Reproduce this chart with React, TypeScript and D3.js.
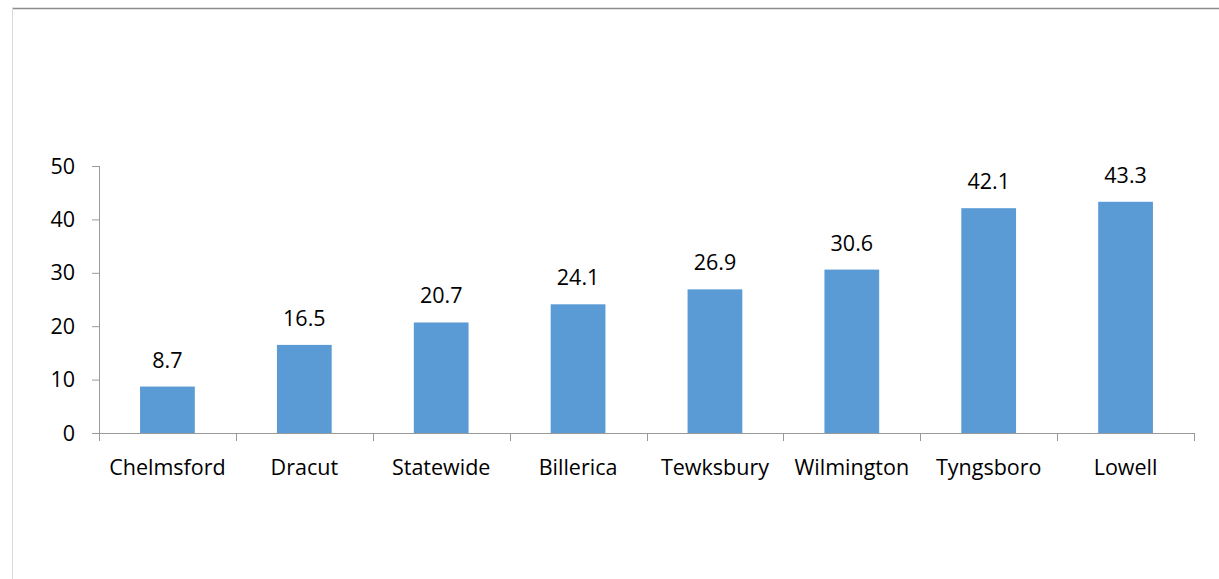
import { useEffect, useRef } from "react";
import * as d3 from "d3";

const categories = ["Chelmsford", "Dracut", "Statewide", "Billerica", "Tewksbury", "Wilmington", "Tyngsboro", "Lowell"];
const values = [8.7, 16.5, 20.7, 24.1, 26.9, 30.6, 42.1, 43.3];
const yTicks = [0, 10, 20, 30, 40, 50];

export default function App() {
  const svgRef = useRef<SVGSVGElement>(null);

  useEffect(() => {
    const svg = d3.select(svgRef.current);
    svg.selectAll("*").remove();
    const W = 1219, H = 579;
    const font = "'Open Sans', sans-serif";
    const fs = 21.5;

    svg.append("line").attr("x1", 12).attr("x2", W).attr("y1", 8.5).attr("y2", 8.5).attr("stroke", "#8c8c8c").attr("stroke-width", 1.5);
    svg.append("line").attr("x1", 12.5).attr("x2", 12.5).attr("y1", 8).attr("y2", H).attr("stroke", "#d9d9d9");

    const x = d3.scaleBand<string>().domain(categories).range([99, 1194]).paddingInner(0.6).paddingOuter(0.3);
    const y = d3.scaleLinear().domain([0, 50]).range([433, 166]);
    const x0 = 99;

    const g = svg.append("g");
    g.append("line").attr("x1", 99.5).attr("x2", 99.5).attr("y1", y(50)).attr("y2", y(0)).attr("stroke", "#999");
    g.append("line").attr("x1", 92).attr("x2", 1194).attr("y1", y(0) + 0.5).attr("y2", y(0) + 0.5).attr("stroke", "#999");
    yTicks.forEach((t) => {
      g.append("line").attr("x1", 92).attr("x2", 99).attr("y1", y(t) + 0.5).attr("y2", y(t) + 0.5).attr("stroke", "#999");
      g.append("text").attr("x", 75).attr("y", y(t)).attr("dy", "0.35em").attr("text-anchor", "end")
        .attr("font-family", font).attr("font-size", fs).attr("fill", "#000").text(t);
    });
    d3.range(categories.length + 1).forEach((i) => {
      const xx = Math.round(x0 + i * (1095 / categories.length)) + 0.5;
      g.append("line").attr("x1", xx).attr("x2", xx).attr("y1", y(0)).attr("y2", y(0) + 8).attr("stroke", "#999");
    });

    categories.forEach((c, i) => {
      const bx = x(c)!;
      g.append("rect").attr("x", bx).attr("y", y(values[i])).attr("width", x.bandwidth()).attr("height", y(0) - y(values[i])).attr("fill", "#5b9bd5");
      g.append("text").attr("x", bx + x.bandwidth() / 2).attr("y", y(values[i]) - 19).attr("text-anchor", "middle")
        .attr("font-family", font).attr("font-size", fs).attr("fill", "#000").text(values[i].toFixed(1));
      g.append("text").attr("x", bx + x.bandwidth() / 2).attr("y", 475).attr("text-anchor", "middle")
        .attr("font-family", font).attr("font-size", fs).attr("fill", "#000").text(c);
    });
  }, []);

  return (
    <svg ref={svgRef} width={1219} height={579} style={{ position: "absolute", left: 0, top: 0, background: "#fff" }} />
  );
}
